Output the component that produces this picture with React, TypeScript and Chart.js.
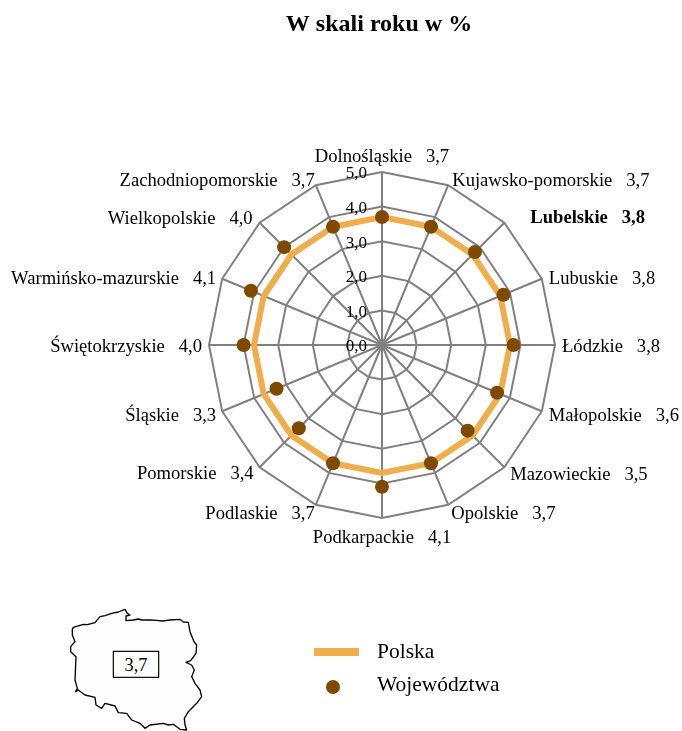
import React, { useEffect, useRef } from "react";
import { Chart, registerables } from "chart.js";

Chart.register(...registerables);

const categories = [
  "Dolnośląskie", "Kujawsko-pomorskie", "Lubelskie", "Lubuskie", "Łódzkie", "Małopolskie",
  "Mazowieckie", "Opolskie", "Podkarpackie", "Podlaskie", "Pomorskie", "Śląskie",
  "Świętokrzyskie", "Warmińsko-mazurskie", "Wielkopolskie", "Zachodniopomorskie",
];
const voivodeships = [3.7, 3.7, 3.8, 3.8, 3.8, 3.6, 3.5, 3.7, 4.1, 3.7, 3.4, 3.3, 4.0, 4.1, 4.0, 3.7];
const poland = [3.7, 3.7, 3.7, 3.7, 3.7, 3.7, 3.7, 3.7, 3.7, 3.7, 3.7, 3.7, 3.7, 3.7, 3.7, 3.7];
const highlighted = "Lubelskie";
const labelOffsetX = [0, 4, 26, 7, 7, 7, 6, 3, 0, -1, -6, -6, -7, -6, -7, -1];
const labelOffsetY = [-15, -4, -4, 0, 2, 5, 8, 9, 20, 9, 7, 5, 2, 0, -4, -4];
const mapOutline = "67,118 70,112 100,103 112,104 135,98 150,80 165,77 185,70 205,66 225,58 232,70 240,75 228,78 228,92 250,90 265,87 275,90 300,90 320,91 338,93 360,90 390,88 400,96 415,97 420,125 432,155 440,165 438,190 422,212 408,217 425,225 433,240 425,260 435,280 450,300 455,320 440,340 415,365 403,385 405,405 410,420 390,418 370,403 355,405 340,400 300,405 285,415 270,400 245,390 230,370 205,368 195,348 165,340 155,355 138,345 135,322 105,315 85,300 77,305 82,295 75,270 78,200 62,185 62,170 75,155 67,135";

const SERIF = "'Liberation Serif', serif";
const fmt = (v: number) => v.toFixed(1).replace(".", ",");

const radarText = {
  id: "radarText",
  afterLayout(chart: any) {
    chart.titleBlock.left = 203;
  },
  beforeDatasetsDraw(chart: any) {
    const { ctx, scales } = chart;
    const r = scales.r;
    ctx.save();
    ctx.fillStyle = "#000";
    ctx.textBaseline = "middle";
    ctx.textAlign = "right";
    ctx.font = `17px ${SERIF}`;
    r.ticks.forEach((t: any) => {
      const d = r.getDistanceFromCenterForValue(t.value);
      ctx.fillText(fmt(t.value), r.xCenter - 15, r.yCenter - d + 2);
    });
    categories.forEach((name, i) => {
      const p = r.getPointPosition(i, r.drawingArea);
      const dx = p.x - r.xCenter;
      ctx.textAlign = Math.abs(dx) < 1 ? "center" : dx > 0 ? "left" : "right";
      ctx.font = `${name === highlighted ? "bold " : ""}18.6px ${SERIF}`;
      ctx.fillText(`${name}   ${fmt(voivodeships[i])}`, p.x + labelOffsetX[i], p.y + labelOffsetY[i]);
    });
    ctx.restore();
  },
  afterDraw(chart: any) {
    const { ctx } = chart;
    ctx.save();
    const [line, dots] = chart.data.datasets;
    ctx.fillStyle = line.borderColor;
    ctx.fillRect(314, 648, 45, 8);
    ctx.fillStyle = dots.pointBackgroundColor;
    ctx.beginPath();
    ctx.arc(333, 687, 7, 0, Math.PI * 2);
    ctx.fill();
    ctx.fillStyle = "#000";
    ctx.font = `21.5px ${SERIF}`;
    ctx.textAlign = "left";
    ctx.textBaseline = "middle";
    ctx.fillText(line.label, 377, 652);
    ctx.fillText(dots.label, 377, 685);
    ctx.restore();
  },
};

export default function App() {
  const ref = useRef<HTMLCanvasElement>(null);
  useEffect(() => {
    const chart = new Chart(ref.current!, {
      type: "radar",
      data: {
        labels: categories,
        datasets: [
          {
            label: "Polska",
            data: poland,
            borderColor: "#F0AD4A",
            backgroundColor: "transparent",
            borderWidth: 6,
            pointRadius: 0,
            fill: false,
            order: 2,
          },
          {
            label: "Województwa",
            data: voivodeships,
            showLine: false,
            fill: false,
            backgroundColor: "transparent",
            pointRadius: 7,
            pointBackgroundColor: "#7F4A00",
            pointBorderWidth: 0,
            order: 1,
          },
        ],
      },
      options: {
        responsive: false,
        animation: false,
        layout: { padding: { left: 209, right: 127, top: 0, bottom: 213 } },
        plugins: {
          legend: { display: false },
          tooltip: { enabled: false },
          title: {
            display: true,
            text: "W skali roku w %",
            color: "#000",
            font: { family: SERIF, size: 24, weight: "bold" },
            padding: { top: 10, bottom: 133.2 },
          },
        },
        scales: {
          r: {
            min: 0,
            max: 5,
            ticks: { display: false, stepSize: 1 },
            pointLabels: { display: false },
            grid: { color: "#808080", lineWidth: 2 },
            angleLines: { color: "#808080", lineWidth: 2 },
          },
        },
      },
      plugins: [radarText],
    } as any);
    return () => chart.destroy();
  }, []);
  return (
    <div style={{ position: "absolute", left: 0, top: 0, width: 682, height: 731 }}>
      <canvas ref={ref} width={682} height={731} style={{ display: "block" }} />
      <svg
        width={200}
        height={141}
        viewBox="0 0 600 423"
        style={{ position: "absolute", left: 50, top: 590 }}
      >
        <polygon points={mapOutline} fill="#fdfdfd" stroke="#000" strokeWidth={4} strokeLinejoin="round" />
        <rect x={190} y={184} width={136} height={78} fill="#fff" stroke="#000" strokeWidth={3.5} />
        <text x={258} y={243} textAnchor="middle" fontFamily={SERIF} fontSize={55} fill="#000">3,7</text>
      </svg>
    </div>
  );
}
